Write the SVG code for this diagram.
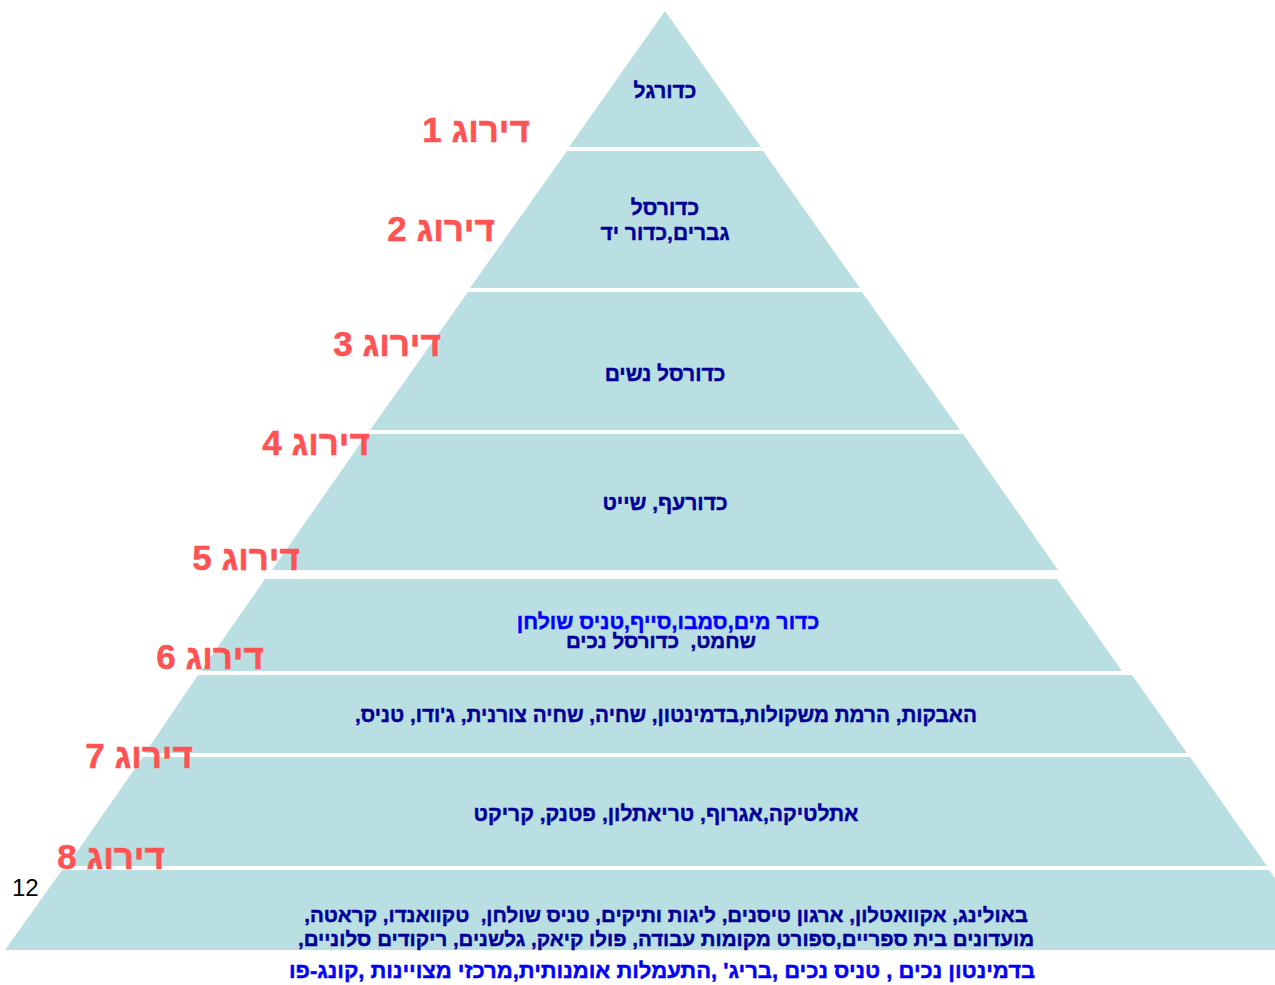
<svg xmlns="http://www.w3.org/2000/svg" width="1275" height="985" viewBox="0 0 1275 985">
<style>
.layer{fill:#BADFE2;}
.t{font-family:"Liberation Sans","DejaVu Sans",sans-serif;font-weight:bold;font-size:21px;fill:#000099;stroke:#000099;stroke-width:0.45;text-anchor:middle;direction:rtl;unicode-bidi:embed;white-space:pre;}
.blue{fill:#0000FF;stroke:#0000FF;}
.rank{font-family:"Liberation Sans","DejaVu Sans",sans-serif;font-weight:bold;font-size:35px;fill:#FF5252;stroke:#FF5252;stroke-width:0.5;text-anchor:middle;direction:rtl;unicode-bidi:embed;}
.num{font-family:"Liberation Sans","DejaVu Sans",sans-serif;font-size:24px;fill:#000000;}
</style>
<rect width="1275" height="985" fill="#FFFFFF"/>
<g id="layer1">
<polygon class="layer" points="665,11 761,147 569,147"/>
<text class="t" x="665" y="98">כדורגל</text>
</g>
<g id="layer2">
<polygon class="layer" points="567,151 763,151 860,288 470,288"/>
<text class="t" x="665" y="215">כדורסל</text>
<text class="t" x="665" y="240">גברים,כדור יד</text>
</g>
<g id="layer3">
<polygon class="layer" points="468,292 862,292 960,430 370,430"/>
<text class="t" x="665" y="381">כדורסל נשים</text>
</g>
<g id="layer4">
<polygon class="layer" points="367,434 963,434 1058,570 272,570"/>
<text class="t" x="665" y="510">כדורעף, שייט</text>
</g>
<g id="layer5">
<polygon class="layer" points="265,579 1057,579 1122,671 201,671"/>
<text class="t blue" x="668" y="629" style="font-size:21.3px">כדור מים,סמבו,סייף,טניס שולחן</text>
<text class="t" x="661" y="648" style="font-size:20.5px">שחמט,  כדורסל נכים</text>
</g>
<g id="layer6">
<polygon class="layer" points="198,675 1132,675 1187,753 145,753"/>
<text class="t" x="666" y="722" style="font-size:20.7px">האבקות, הרמת משקולות,בדמינטון, שחיה, שחיה צורנית, ג'ודו, טניס,</text>
</g>
<g id="layer7">
<polygon class="layer" points="143,757 1190,757 1267,866 67,866"/>
<text class="t" x="666" y="821">אתלטיקה,אגרוף, טריאתלון, פטנק, קריקט</text>
</g>
<g id="layer8">
<polygon class="layer" points="62,870 1269,870 1275,878 1275,950 5,950"/>
<text class="t" x="666" y="922" style="font-size:20.5px">באולינג, אקוואטלון, ארגון טיסנים, ליגות ותיקים, טניס שולחן,  טקוואנדו, קראטה,</text>
<text class="t" x="666" y="946" style="font-size:20.5px">מועדונים בית ספריים,ספורט מקומות עבודה, פולו קיאק, גלשנים, ריקודים סלוניים,</text>
</g>
<g id="ranks">
<text class="rank" x="476" y="142">דירוג 1</text>
<text class="rank" x="441" y="241">דירוג 2</text>
<text class="rank" x="387" y="356">דירוג 3</text>
<text class="rank" x="316" y="455">דירוג 4</text>
<text class="rank" x="246" y="570">דירוג 5</text>
<text class="rank" x="210" y="669">דירוג 6</text>
<text class="rank" x="139" y="768">דירוג 7</text>
<text class="rank" x="111" y="869">דירוג 8</text>
</g>
<g id="footer">
<text class="t blue" x="662" y="978" style="font-size:22px">בדמינטון נכים , טניס נכים ,בריג' ,התעמלות אומנותית,מרכזי מצויינות ,קונג-פו</text>
<text class="num" x="12" y="896">12</text>
</g>
</svg>
